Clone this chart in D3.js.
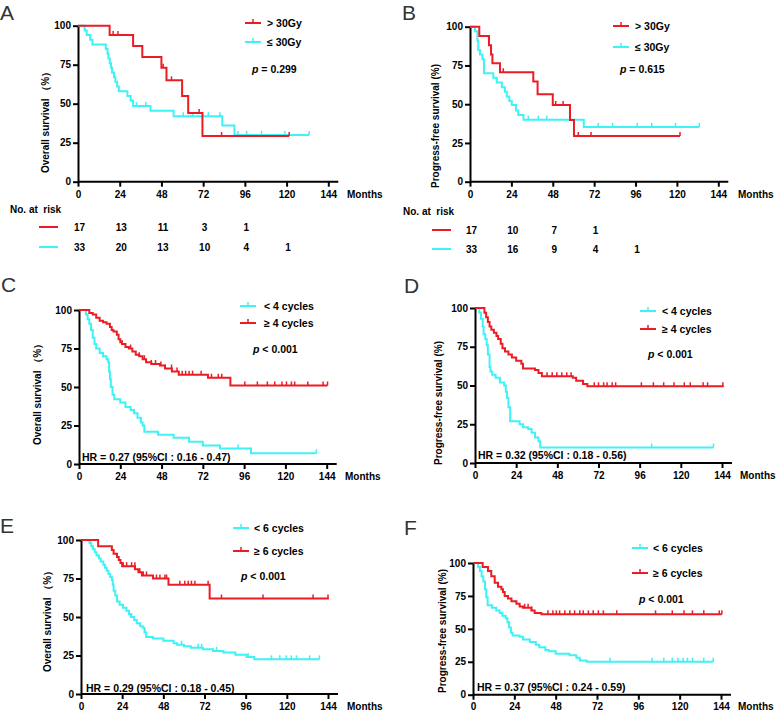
<!DOCTYPE html>
<html><head><meta charset="utf-8">
<script src="https://cdn.jsdelivr.net/npm/d3@7"></script>
<style>body{margin:0;background:#fff}svg{display:block}</style>
</head><body><svg id="chart" width="780" height="711"></svg>
<script>
const monthTicks=[0,24,48,72,96,120,144];
const survTicks=[0,25,50,75,100];
const RED="#ec1c24", CYAN="#3ef2f5";

// Panel A: OS by dose
const aHighSteps=[[0,100],[18.2,94],[31.7,87],[37,80],[48,73],[50.9,65],[59.9,55],[63.4,44],[71.6,29.3]];
const aHighEnd=121.5;
const aHighCensor=[20.2,23,49,53.8,69.7,82.6,121.5];
const aLowSteps=[[0,100],[3.8,97],[5,94],[7,91],[8.3,88],[16,85],[17,82],[17.5,79],[18.3,76],[19,73],[19.6,70],[20.7,67],[21.5,64],[22.5,61],[23.5,58],[28.4,55],[30.3,52],[31.7,48.5],[41.7,45.5],[55,42],[83,36],[90,30]];
const aLowEnd=133;
const aLowCensor=[33.6,39,60.5,66,75,81.6,92,97,105.6,119,133];
const aRiskHigh=[17,13,11,3,1];
const aRiskLow=[33,20,13,10,4,1];

// Panel B: PFS by dose
const bHighSteps=[[0,100],[5.4,94],[11,88],[12.2,82],[13,76.5],[17.4,70.6],[36.7,64.7],[39.2,56.5],[48,49.5],[58,39.8],[60.3,29.5]];
const bHighEnd=121.8;
const bHighCensor=[19.3,49.7,54,62.8,70.2,121.8];
const bLowSteps=[[0,100],[2.9,97],[4.3,91],[4.8,85],[5.8,82],[7.2,79],[8.1,70],[13.5,67],[15.5,64],[18.5,61],[20.3,58],[21.3,55],[22.8,52],[24.2,49.5],[26.7,46],[28,43],[31,40],[66,35.3]];
const bLowEnd=133;
const bLowCensor=[33.8,39.6,44.5,74.4,82.7,97,105.4,119.2,133];
const bRiskHigh=[17,10,7,1];
const bRiskLow=[33,16,9,4,1];

// Panel C: OS by 4 cycles
const cLowSteps=[[0,100],[4,97],[5,94],[6,91],[7,87],[8,82],[9,78],[10,75],[12,72],[14,70],[16,68],[17,66],[17.5,60],[18,55],[18.5,50],[19.5,45],[20.5,42],[24,40],[27,37],[30,35],[32,33],[34,30],[36,27],[37,25],[38,21],[46,19],[55,17],[64,14.5],[72,12],[82,10],[100,7]];
const cLowEnd=138;
const cLowCensor=[92.5,138];
const cHighSteps=[[0,100],[6,98],[8,97],[10,95],[12,93],[14,92],[16,91],[18,89],[19,87],[20,86],[22,84],[23,81],[24,79],[25,78],[27,76],[29,75],[31,73],[33,71],[35,70],[37,68],[39,66],[42,65],[47,64],[50,62],[54,60],[58,58],[75,56],[88,51]];
const cHighEnd=144.5;
const cHighCensor=[25,30,35,38,42,44.5,47.6,50,53.8,57,60,62,64,66,71,77,81,83,96.4,103.7,109.5,113.8,118,120.6,123.5,125.4,133,141.9,144.5];

// Panel D: PFS by 4 cycles
const dLowSteps=[[0,100],[2.5,97],[3.5,93],[4.5,88],[5,83],[6,80],[6.8,76],[7.5,70],[8.5,62],[9,59],[10,57],[12,55],[14.5,52],[17,50],[18,46],[18.7,42],[19.5,36],[20.5,27],[26,25],[28,23],[31,22],[33,19.5],[35,16.5],[37,14],[38,10]];
const dLowEnd=139;
const dLowCensor=[103,139];
const dHighSteps=[[0,100],[5.5,97],[6.5,94],[7.5,91],[8.5,88],[9.5,86],[11,84],[12.5,82],[13.5,80],[15,77],[16,74],[17.5,72],[19.5,70],[21.5,68],[24,66],[27,64],[28,61],[35,60],[37,58],[39,56],[57,55],[59,53],[63,51],[65.5,49.5]];
const dHighEnd=145;
const dHighCensor=[42,45,47.7,50.6,53.5,56,69.5,72,75,77,80,82,97,104,110,116,122,125.5,133,135.6,144.5];

// Panel E: OS by 6 cycles
const eLowSteps=[[0,100],[5,98],[6,96],[7,94],[8,92],[9,90],[10.5,88],[11.5,86],[13,84],[14,82],[15,80],[16,78],[17,76],[18,74],[18.5,71],[19,67],[20,64],[21,60],[22.5,58],[24.5,56],[26.5,54],[28,52],[29,50],[31,48],[32.5,46],[34.5,44],[36,43],[37,40],[38,37],[42,36],[48,34.5],[54,33],[56,32],[60,31],[64,30],[71,29],[77,28],[83,27],[90,25.5],[96.5,24],[101,22.5]];
const eLowEnd=139;
const eLowCensor=[29.5,37.3,58.6,68.3,70.3,79,97.4,111,115.9,119.7,122.6,125.6,133.3,139];
const eHighSteps=[[0,100],[10,96],[18,93.5],[19,91],[21,89],[22,87],[23,85],[24,83],[31.5,81],[33.5,79],[35.5,77],[42,75],[51,71],[75,62]];
const eHighEnd=144.5;
const eHighCensor=[24.6,26.6,29.5,31.4,34.3,36.3,38.2,44,46,48.9,49.9,57.6,60.5,62.5,64.4,66.4,74.1,81.9,106.1,135.3,144];

// Panel F: PFS by 6 cycles
const fLowSteps=[[0,100],[3,97],[4,94],[5,90],[6,86],[7,80],[7.7,74],[8.5,68],[11,66],[13.5,64],[15.5,62],[17,60],[19,58],[20,55],[21,51],[22,47],[23,45],[27,44],[29,42],[33,40],[36.5,38],[38.5,36],[42,34],[44,33],[48,31],[56,30],[60,28],[62,26],[66,25]];
const fLowEnd=139.5;
const fLowCensor=[79.6,104,110.8,115.7,119,122,124.5,127.4,134,139.5];
const fHighSteps=[[0,100],[5.6,97],[8.7,94],[10.6,90],[12.6,85],[14.5,82],[16.5,80],[17.4,78],[18.4,75],[20.3,73],[22.3,71],[25.2,69],[27.1,67],[29,66],[33.9,64],[35.8,62],[39.7,61]];
const fHighEnd=144.5;
const fHighCensor=[30,32,34,43.5,46.4,48.4,50.3,53.3,56.2,59,62,64,67,69.8,72.8,75.7,83.5,106,115.7,122.5,127.4,134,143,144.5];

const FONT="'Liberation Sans', Arial, sans-serif";
const svg=d3.select("#chart");

const panels=[
 {letter:"A",lx:0,ly:20,x0:78,x1:328.3,y100:25.7,y0:181.7,ylab:"Overall survival （%）",ylx:45,yly:120,monthsX:347,tickBase:198,
  series:[{steps:aLowSteps,end:aLowEnd,censor:aLowCensor,color:CYAN},{steps:aHighSteps,end:aHighEnd,censor:aHighCensor,color:RED}],
  legend:[{label:"> 30Gy",color:RED,x:245,y:23},{label:"≤ 30Gy",color:CYAN,x:245,y:42}],ltx:22,
  p:" = 0.299",px:252,py:73,hr:null,
  risk:{labelX:10,labelY:213,lineX:39,rows:[{vals:aRiskHigh,color:RED,y:227},{vals:aRiskLow,color:CYAN,y:247}]}},
 {letter:"B",lx:402,ly:20,x0:470,x1:718.3,y100:26.7,y0:181.7,ylab:"Progress-free survival (%)",ylx:435,yly:126,monthsX:738,tickBase:198,
  series:[{steps:bLowSteps,end:bLowEnd,censor:bLowCensor,color:CYAN},{steps:bHighSteps,end:bHighEnd,censor:bHighCensor,color:RED}],
  legend:[{label:"> 30Gy",color:RED,x:613,y:26},{label:"≤ 30Gy",color:CYAN,x:613,y:47}],ltx:22,
  p:" = 0.615",px:620,py:73,hr:null,
  risk:{labelX:403,labelY:215,lineX:432,rows:[{vals:bRiskHigh,color:RED,y:230},{vals:bRiskLow,color:CYAN,y:249}]}},
 {letter:"C",lx:1,ly:292,x0:79,x1:326.7,y100:310,y0:464,ylab:"Overall survival （%）",ylx:37,yly:392,monthsX:345,tickBase:480,
  series:[{steps:cLowSteps,end:cLowEnd,censor:cLowCensor,color:CYAN},{steps:cHighSteps,end:cHighEnd,censor:cHighCensor,color:RED}],
  legend:[{label:"< 4 cycles",color:CYAN,x:240,y:306},{label:"≥ 4 cycles",color:RED,x:240,y:323}],ltx:24,
  p:" < 0.001",px:253,py:353,hr:"HR = 0.27 (95%CI : 0.16 - 0.47)",hx:82,hy:461,risk:null},
 {letter:"D",lx:404,ly:293,x0:475,x1:722,y100:308,y0:463,ylab:"Progress-free survival (%)",ylx:438,yly:403,monthsX:740,tickBase:479,
  series:[{steps:dLowSteps,end:dLowEnd,censor:dLowCensor,color:CYAN},{steps:dHighSteps,end:dHighEnd,censor:dHighCensor,color:RED}],
  legend:[{label:"< 4 cycles",color:CYAN,x:640,y:311},{label:"≥ 4 cycles",color:RED,x:640,y:329}],ltx:22,
  p:" < 0.001",px:648,py:358,hr:"HR = 0.32 (95%CI : 0.18 - 0.56)",hx:478,hy:459,risk:null},
 {letter:"E",lx:0,ly:533,x0:81,x1:328,y100:540,y0:694,ylab:"Overall survival （%）",ylx:47,yly:619,monthsX:347,tickBase:710,
  series:[{steps:eLowSteps,end:eLowEnd,censor:eLowCensor,color:CYAN},{steps:eHighSteps,end:eHighEnd,censor:eHighCensor,color:RED}],
  legend:[{label:"< 6 cycles",color:CYAN,x:233,y:528},{label:"≥ 6 cycles",color:RED,x:233,y:551}],ltx:21,
  p:" < 0.001",px:241,py:580,hr:"HR = 0.29 (95%CI : 0.18 - 0.45)",hx:86,hy:692,risk:null},
 {letter:"F",lx:404,ly:535,x0:473,x1:721,y100:563,y0:694.7,ylab:"Progress-free survival (%)",ylx:442,yly:631,monthsX:738,tickBase:710,
  series:[{steps:fLowSteps,end:fLowEnd,censor:fLowCensor,color:CYAN},{steps:fHighSteps,end:fHighEnd,censor:fHighCensor,color:RED}],
  legend:[{label:"< 6 cycles",color:CYAN,x:632,y:548},{label:"≥ 6 cycles",color:RED,x:632,y:573}],ltx:21,
  p:" < 0.001",px:639,py:603,hr:"HR = 0.37 (95%CI : 0.24 - 0.59)",hx:477,hy:691,risk:null}
];

function survAt(steps,t){let s=steps[0][1];for(const d of steps){if(d[0]<=t)s=d[1];else break;}return s;}

panels.forEach(P=>{
  const g=svg.append("g");
  const x=d3.scaleLinear().domain([0,144]).range([P.x0,P.x1]);
  const y=d3.scaleLinear().domain([0,100]).range([P.y0,P.y100]);
  g.append("text").attr("x",P.lx).attr("y",P.ly).attr("font-family",FONT).attr("font-size",21).attr("fill","#333").text(P.letter);
  const xa=g.append("g").attr("transform",`translate(0,${P.y0})`)
    .call(d3.axisBottom(x).tickValues(monthTicks).tickSize(5).tickPadding(4).tickSizeOuter(0));
  xa.select(".domain").attr("d",`M${P.x0},0H${P.x1+10}`);
  const ya=g.append("g").attr("transform",`translate(${P.x0},0)`)
    .call(d3.axisLeft(y).tickValues(survTicks).tickSize(5).tickPadding(2).tickSizeOuter(0));
  [xa,ya].forEach(a=>{
    a.select(".domain").attr("stroke","#000").attr("stroke-width",2);
    a.selectAll(".tick line").attr("stroke","#000").attr("stroke-width",2);
    a.selectAll(".tick text").attr("font-family",FONT).attr("font-size",10).attr("font-weight","bold").attr("fill","#000");
  });
  xa.selectAll(".tick text").attr("y",null).attr("dy",null).attr("transform",`translate(0,${P.tickBase-P.y0})`);
  g.append("text").attr("x",P.monthsX).attr("y",P.tickBase).attr("font-family",FONT).attr("font-size",10).attr("font-weight","bold").text("Months");
  g.append("text").attr("transform",`translate(${P.ylx+3.5},${P.yly}) rotate(-90)`).attr("text-anchor","middle")
    .attr("font-family",FONT).attr("font-size",10).attr("font-weight","bold").text(P.ylab);
  const line=d3.line().x(d=>x(d[0])).y(d=>y(d[1])).curve(d3.curveStepAfter);
  P.series.forEach(s=>{
    const pts=s.steps.concat([[s.end,s.steps[s.steps.length-1][1]]]);
    g.append("path").attr("d",line(pts)).attr("fill","none").attr("stroke",s.color).attr("stroke-width",2);
    g.selectAll(null).data(s.censor).enter().append("line")
      .attr("x1",d=>x(d)).attr("x2",d=>x(d)).attr("y1",d=>y(survAt(s.steps,d))).attr("y2",d=>y(survAt(s.steps,d))-4)
      .attr("stroke",s.color).attr("stroke-width",1.5);
  });
  P.legend.forEach(l=>{
    g.append("line").attr("x1",l.x).attr("x2",l.x+16).attr("y1",l.y).attr("y2",l.y).attr("stroke",l.color).attr("stroke-width",2);
    g.append("line").attr("x1",l.x+8).attr("x2",l.x+8).attr("y1",l.y).attr("y2",l.y-4).attr("stroke",l.color).attr("stroke-width",1.5);
    g.append("text").attr("x",l.x+P.ltx).attr("y",l.y+4).attr("font-family",FONT).attr("font-size",10.5).attr("font-weight","bold").text(l.label);
  });
  const pt=g.append("text").attr("x",P.px).attr("y",P.py).attr("font-family",FONT).attr("font-size",10.5).attr("font-weight","bold");
  pt.append("tspan").attr("font-style","italic").text("p");
  pt.append("tspan").text(P.p);
  if(P.hr){
    g.append("text").attr("x",P.hx).attr("y",P.hy).attr("font-family",FONT).attr("font-size",10.5).attr("font-weight","bold").text(P.hr);
  }
  if(P.risk){
    const R=P.risk;
    g.append("text").attr("x",R.labelX).attr("y",R.labelY).attr("font-family",FONT).attr("font-size",10).attr("font-weight","bold").attr("xml:space","preserve").text("No. at  risk");
    R.rows.forEach(r=>{
      g.append("line").attr("x1",R.lineX).attr("x2",R.lineX+19).attr("y1",r.y).attr("y2",r.y).attr("stroke",r.color).attr("stroke-width",2);
      g.selectAll(null).data(r.vals).enter().append("text")
        .attr("x",(d,i)=>x(monthTicks[i])+1.5).attr("y",r.y+4).attr("text-anchor","middle")
        .attr("font-family",FONT).attr("font-size",10).attr("font-weight","bold").text(d=>d);
    });
  }
});
</script></body></html>
